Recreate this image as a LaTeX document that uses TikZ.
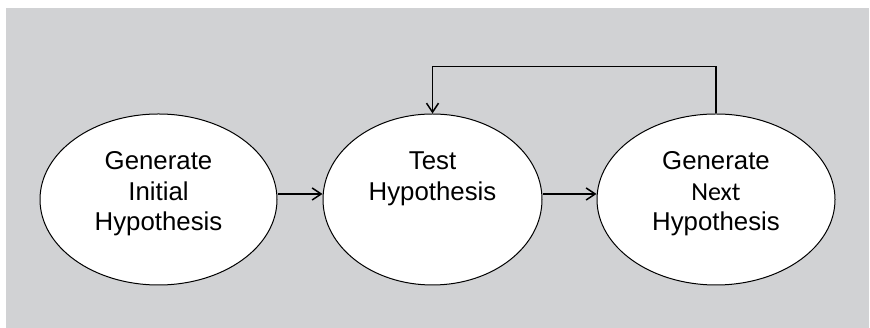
\documentclass[tikz,border=0pt]{standalone}
\usepackage{fontspec}
\setmainfont{Liberation Sans}
\newfontfamily\nextfont{Carlito}
\usepackage{xcolor}
\usetikzlibrary{arrows.meta,positioning,shapes.geometric}
\definecolor{panelgray}{RGB}{209,210,212}
\tikzset{
  stepellipse/.style={ellipse,draw=black,fill=white,line width=1pt,inner sep=0pt,
    minimum height=171pt,align=center,text depth=16.3pt,
    font=\fontsize{25.8pt}{30.5pt}\selectfont},
  flowarrow/.style={-{Straight Barb[length=9pt,width=12pt]},line width=1.5pt}
}
\begin{document}
\begin{tikzpicture}[x=1pt,y=1pt]
  \useasboundingbox (0,0) rectangle (870,328);
  \fill[panelgray] (6,0) rectangle (869,320);
  \node[stepellipse,minimum width=237pt] (initial) at (158.5,128.5) {Generate\\Initial\\Hypothesis};
  \node[stepellipse,minimum width=219pt,text depth=46.5pt,right=45pt of initial] (test) {Test\\Hypothesis};
  \node[stepellipse,minimum width=238pt,right=54pt of test] (next) {Generate\\{\nextfont\fontsize{26pt}{30.5pt}\selectfont Next}\\Hypothesis};
  \draw[flowarrow] ([yshift=5.5pt]initial.east) -- ([yshift=5.5pt]test.west);
  \draw[flowarrow] ([yshift=5.5pt]test.east) -- ([yshift=5.5pt]next.west);
  \draw[flowarrow] (next.north) -- ++(0,47) -| (test.north);
\end{tikzpicture}
\end{document}
